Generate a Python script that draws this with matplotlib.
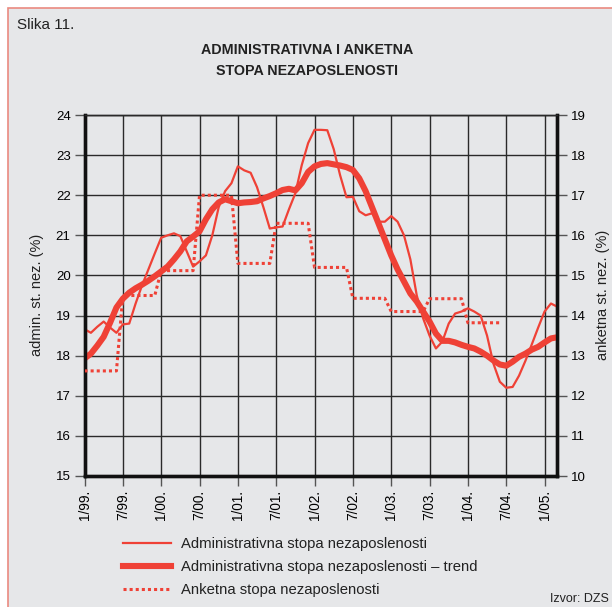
import numpy as np
import matplotlib
matplotlib.use("Agg")
import matplotlib.pyplot as plt
from matplotlib.patches import Rectangle

plt.rcParams['font.family'] = ['Liberation Sans', 'DejaVu Sans']

# months counted from 1/99 (0) to 3/05 (74)
months = np.arange(75)

# Administrativna stopa nezaposlenosti (%), monthly
admin = [18.66, 18.57, 18.72, 18.85, 18.70, 18.57, 18.78, 18.80, 19.30, 19.75,
         20.15, 20.55, 20.94, 21.00, 21.05, 20.98, 20.60, 20.22, 20.35, 20.50,
         21.00, 21.70, 22.10, 22.30, 22.72, 22.62, 22.56, 22.20, 21.70, 21.17,
         21.20, 21.22, 21.65, 22.05, 22.75, 23.30, 23.63, 23.63, 23.62, 23.15,
         22.50, 21.95, 21.96, 21.60, 21.50, 21.55, 21.34, 21.34, 21.48, 21.34,
         21.00, 20.40, 19.50, 18.93, 18.50, 18.18, 18.35, 18.80, 19.05, 19.10,
         19.18, 19.10, 19.00, 18.50, 17.80, 17.35, 17.20, 17.22, 17.50, 17.87,
         18.28, 18.70, 19.10, 19.30, 19.22]

# Administrativna stopa nezaposlenosti - trend (%), monthly
trend = [17.93, 18.05, 18.25, 18.47, 18.82, 19.20, 19.42, 19.57, 19.68, 19.77,
         19.87, 19.98, 20.10, 20.22, 20.40, 20.60, 20.85, 20.97, 21.10, 21.40,
         21.65, 21.82, 21.90, 21.85, 21.80, 21.82, 21.83, 21.85, 21.92, 21.98,
         22.05, 22.13, 22.16, 22.12, 22.30, 22.58, 22.72, 22.78, 22.80, 22.77,
         22.74, 22.70, 22.63, 22.42, 22.10, 21.70, 21.30, 20.90, 20.50, 20.15,
         19.85, 19.55, 19.35, 19.10, 18.85, 18.55, 18.37, 18.37, 18.33, 18.27,
         18.22, 18.18, 18.10, 18.00, 17.88, 17.78, 17.75, 17.85, 17.97, 18.05,
         18.15, 18.22, 18.33, 18.43, 18.46]

# Anketna stopa nezaposlenosti (%), half-yearly (1/99 ... 7/04)
anketna_half = [12.62, 14.50, 15.12, 17.00, 15.30, 16.30, 15.20, 14.43, 14.10, 14.42, 13.82]
anketna = np.repeat(anketna_half, 6)
anketna_months = np.arange(len(anketna))

xtick_pos = np.arange(0, 73, 6)
xtick_labels = ['1/99.', '7/99.', '1/00.', '7/00.', '1/01.', '7/01.', '1/02.',
                '7/02.', '1/03.', '7/03.', '1/04.', '7/04.', '1/05.']

red = '#ef4136'
W, H = 612, 607

fig = plt.figure(figsize=(W / 100, H / 100), dpi=100, facecolor='white')
# panel background with border, running off right/bottom edge
fig.patches.append(Rectangle((8 / W, -0.05), 1.1, 1 - 8 / H + 0.05, transform=fig.transFigure,
                             facecolor='#e6e7e9', edgecolor='#ea8a80', linewidth=1.2, zorder=-5))

ax = fig.add_axes([84.5 / W, 1 - 476 / H, (556.7 - 84.5) / W, (476 - 115) / H])
ax.set_facecolor('#e6e7e9')
ax.plot(months, admin, color=red, lw=1.6, zorder=3,
        label='Administrativna stopa nezaposlenosti')
ax.plot(months, trend, color=red, lw=4.4, zorder=4,
        label='Administrativna stopa nezaposlenosti – trend')
ax.set_xlim(0, 73.9)
ax.set_ylim(15, 24)

ax2 = ax.twinx()
ax2.plot(anketna_months, anketna, color=red, lw=2.2, dashes=(1, 1), zorder=3,
         label='Anketna stopa nezaposlenosti')
ax2.set_ylim(10, 19)

ax.set_xticks(xtick_pos)
ax.set_xticklabels(xtick_labels, rotation=90, fontsize=9.8)
ax.set_yticks(range(15, 25))
ax.tick_params(axis='y', labelsize=9.5, length=7, width=1, color='#555555', pad=3)
ax.tick_params(axis='x', length=7, width=1, color='#555555', pad=3)
ax2.set_yticks(range(10, 20))
ax2.tick_params(axis='y', labelsize=9.5, length=7, width=1, color='#555555', pad=3)
ax.grid(True, color='#2a2a2a', lw=1.0)
ax.set_axisbelow(True)

for a in (ax, ax2):
    a.spines['top'].set_linewidth(1.0)
    a.spines['top'].set_color('#2a2a2a')
    for s in ('left', 'right', 'bottom'):
        a.spines[s].set_linewidth(2.4)
        a.spines[s].set_color('#111111')

fig.text(37 / W, 1 - 295 / H, 'admin. st. nez. (%)', rotation=90, fontsize=10.5,
         ha='center', va='center', color='#222222')
fig.text(603 / W, 1 - 295 / H, 'anketna st. nez. (%)', rotation=90, fontsize=10.5,
         ha='center', va='center', color='#222222')

fig.text(17 / W, 1 - 25 / H, 'Slika 11.', fontsize=11, ha='left', va='center', color='#222222')
fig.text(307 / W, 1 - 50 / H, 'ADMINISTRATIVNA I ANKETNA', fontsize=10.3, fontweight='bold',
         ha='center', va='center', color='#222222')
fig.text(307 / W, 1 - 71 / H, 'STOPA NEZAPOSLENOSTI', fontsize=10.3, fontweight='bold',
         ha='center', va='center', color='#222222')
fig.text(609 / W, 1 - 599 / H, 'Izvor: DZS', fontsize=9, ha='right', va='center', color='#222222')

h1, l1 = ax.get_legend_handles_labels()
h2, l2 = ax2.get_legend_handles_labels()
fig.legend(h1 + h2, l1 + l2, loc='upper left', bbox_to_anchor=(117 / W, 1 - 531 / H),
           frameon=False, fontsize=10.7, handlelength=3.2, handletextpad=0.7,
           labelspacing=0.6, borderaxespad=0, labelcolor='#222222')

fig.savefig('out.png', dpi=100, facecolor='white')
